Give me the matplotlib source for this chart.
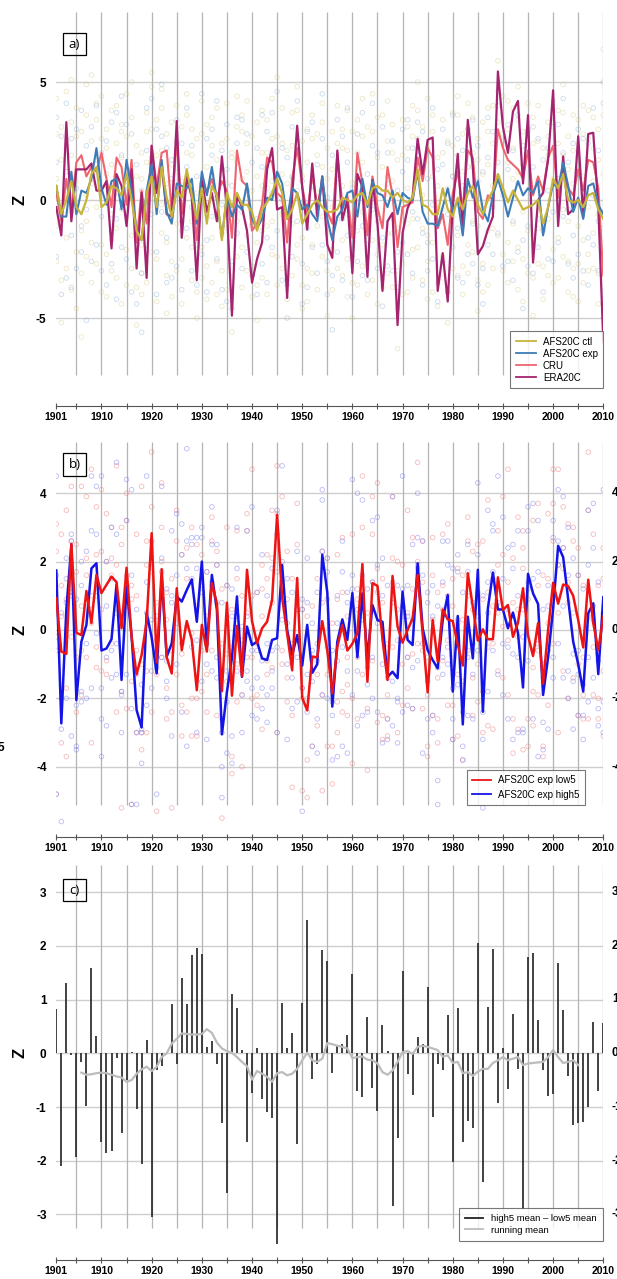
import numpy as np
import matplotlib
matplotlib.use("Agg")
import matplotlib.pyplot as plt
from matplotlib.lines import Line2D
from matplotlib.patches import Rectangle

plt.rcParams['font.family'] = ['Liberation Sans', 'DejaVu Sans']

W, H = 617, 1279
years = np.arange(1901, 2011)

# ---- panel a: ensemble means and reanalysis / obs
a_ctl = [0.6, -0.6, 0.0, 0.8, -0.3, -0.6, 0.0, 1.1, 1.4, -0.3,
         -0.1, 0.6, 0.5, 0.2, 1.1, 0.0, -1.3, -1.7, 0.3, 1.0,
         -0.3, 1.4, 0.1, -0.7, 0.4, 0.1, 1.3, 0.2, -0.8, 0.5,
         -1.0, 0.6, 0.2, -1.7, 0.3, -0.3, 0.3, -0.2, -0.2, -0.5,
         -1.3, -0.4, -0.1, 0.3, 0.9, 0.3, -0.8, -0.4, 0.3, -1.0,
         -0.6, -0.2, 0.0, -0.3, -0.5, -0.5, -0.4, 0.1, 0.0, -0.1,
         0.2, 0.3, -0.2, 0.5, 0.6, 0.4, 0.4, 0.1, 0.3, 0.0,
         -0.1, 0.1, 1.3, -0.2, -0.3, -0.6, -0.6, 0.5, -0.4, -0.7,
         0.1, -0.4, 0.3, 0.6, -0.2, -0.6, 0.0, 0.4, 1.1, 0.5,
         -0.1, 0.4, 0.0, -0.4, -0.3, -0.2, 0.0, -1.0, -0.3, 0.9,
         0.5, 1.1, 0.0, -0.1, 0.0, -0.3, 0.2, 0.3, -0.4, -0.8]
a_exp = [0.6, -0.7, -0.7, 1.2, -0.6, 0.4, 0.3, 0.9, 2.2, 0.5,
         -0.2, 0.8, 0.9, -0.4, 1.7, 0.4, -1.3, -1.7, 0.4, 1.5,
         -0.6, 1.7, -0.5, -1.0, 0.7, 0.6, 0.5, 0.9, -1.0, 1.2,
         0.2, 1.4, 0.0, -1.6, 0.2, -0.7, -0.2, -0.4, 0.7, -0.8,
         -1.2, -0.8, 0.1, 0.0, 1.2, 0.7, -0.8, 0.5, 0.3, -0.4,
         -0.2, -0.6, -0.9, 1.0, -0.8, -1.7, -0.7, -0.4, 0.3, 0.4,
         -0.7, 0.9, -0.3, 0.8, 0.3, 0.2, -0.3, 0.4, -0.6, 0.3,
         0.1, 0.0, 1.2, -0.5, -1.0, -1.0, -1.1, -0.3, 0.5, -0.5,
         0.0, -1.5, 0.9, 0.1, 0.8, -0.4, -0.9, 0.2, 0.9, 0.2,
         -0.7, 0.1, 0.8, 0.2, 0.5, 0.3, 0.8, -1.5, -0.3, 0.7,
         0.5, 1.6, 0.6, -0.5, 0.1, -0.8, 0.6, 0.7, -0.2, -0.6]
a_cru = [0.3, -0.9, 0.9, -0.5, 1.6, 1.9, 1.0, 1.4, 1.2, 2.0,
         0.9, -0.3, 1.8, 1.4, -0.2, 1.7, -1.8, 0.4, -1.0, 2.3,
         0.6, 2.0, 2.1, -0.5, 2.6, -0.6, 0.9, 0.4, -1.7, 1.0,
         0.3, 0.9, 0.1, 0.8, 0.4, -1.6, 2.1, 0.8, 0.6, -1.3,
         -1.0, -0.2, 1.8, 1.6, 0.3, 0.1, -1.8, 0.9, 2.2, 0.6,
         -0.6, 1.1, -0.3, 0.8, -0.5, -1.0, 2.0, -0.2, 0.2, -1.6,
         2.0, 0.7, -1.5, 1.0, -0.3, -1.2, 1.4, 0.2, -2.0, -0.3,
         -0.2, -0.1, 1.8, 0.8, 2.2, 1.8, -1.2, -0.6, -1.9, 0.3,
         1.2, -0.4, 2.1, 1.8, -0.5, -0.8, 0.2, 0.0, 3.0, 2.2,
         1.7, 1.5, 1.3, 0.9, 2.1, 0.2, 1.0, 0.4, 1.8, 2.3,
         0.1, 1.5, 0.5, 0.2, 1.3, 0.4, 1.7, 1.6, 0.5, -3.2]
a_era = [-0.3, -1.5, 3.3, -0.9, 1.3, 1.3, 1.3, 1.55, 0.4, 0.4,
         0.8, -2.05, 1.1, 0.6, -1.1, 1.3, -2.9, 0.3, -3.3, 2.3,
         0.3, 1.5, -0.6, -0.7, 3.35, -1.6, 1.0, 0.1, -3.4, 0.9,
         -0.5, 0.3, -0.9, 1.85, -0.4, -4.9, 0.2, -0.3, -1.3, -3.5,
         -2.5, -1.8, 1.3, 2.2, -0.4, -0.3, -4.15, 0.2, 3.15, 0.55,
         -1.25, 1.55, -0.7, 1.0, -1.9, -2.45, 2.1, -0.85, 0.0, -3.1,
         1.1, 0.55, -3.25, 0.85, -1.0, -3.85, -0.9, -0.55, -5.3, -1.4,
         -0.35, 0.15, 2.6, 1.1, 2.55, 2.65, -3.85, -2.25, -4.3, -0.3,
         1.95, -1.4, 3.4, 1.4, -2.3, -1.95, -1.25, -0.7, 5.45, 3.1,
         2.0, 3.75, 4.2, 0.7, 3.6, -2.65, 0.0, 0.3, 1.7, 4.65,
         -1.1, 1.85, -0.6, -0.4, 2.7, -0.7, 2.8, 2.85, -0.3, -6.0]

# individual members, one group per year (comma separated)
a_ctl_members = """
2.8 -1.1 4.3 -2.6 0.9, -3.4 1.7 -0.8 3.1 -5.2, 2.2 -2.9 0.4 4.6 -1.6, 3.3 -0.5 1.9 -3.8 5.1, -2.2 0.8 -4.6 2.7 3.9,
1.4 -3.1 2.9 -1.3 -5.8, 3.6 0.2 -2.4 4.9 -0.9, 2.5 -1.8 5.3 0.7 -3.5, 4.1 1.2 -2.7 3.4 -0.3, -1.9 2.6 -3.9 0.5 4.4,
3.0 -2.3 1.1 -4.1 2.2, -0.6 3.8 -3.0 1.5 -1.7, 2.4 -1.2 4.0 -3.3 0.3, 1.8 -4.4 3.2 -0.4 2.9, 4.5 0.6 -2.1 2.7 -3.6,
-1.5 3.5 0.1 -2.9 5.0, -3.7 1.0 -5.3 2.3 -1.0, -4.0 -1.9 0.9 -3.1 2.0, 2.9 -3.5 1.6 3.7 -0.8, 4.8 1.3 -2.2 3.0 5.4,
-2.5 1.9 3.4 -4.3 0.4, 3.9 -1.4 2.1 -0.2 4.7, -3.2 0.7 2.8 -1.8 -4.8, -2.6 1.5 -4.1 3.3 -0.7, 4.0 -1.0 2.5 -3.0 1.2,
-1.3 3.1 -2.5 0.8 -4.4, 3.6 0.5 -1.6 4.5 2.0, 1.9 -3.4 3.0 -0.9 -2.0, -3.9 0.3 -1.7 2.6 -5.0, 2.8 -2.0 4.2 0.6 -3.3,
-2.8 1.4 -4.2 3.2 0.0, 3.5 -1.6 2.3 -3.5 1.1, 1.7 -2.6 3.9 -0.5 -4.0, -4.5 -1.4 1.3 -3.0 2.4, 2.6 -3.8 0.7 4.1 -1.2,
-3.3 1.8 -5.6 2.0 -0.6, 3.1 -0.9 4.4 -2.4 1.6, -2.0 2.9 -3.7 0.9 3.6, 1.2 -3.0 2.4 -1.5 4.2, -4.1 0.4 -2.8 2.7 -1.0,
-3.6 1.0 -1.8 3.3 -5.1, 2.0 -3.3 0.6 -1.3 3.8, 3.4 -1.1 2.0 -4.0 0.5, 4.3 0.8 -2.3 2.6 -0.9, 2.7 -2.4 5.2 0.2 -3.6,
1.1 3.9 -2.9 -0.6 2.4, -4.2 -1.5 2.1 -3.4 0.7, 2.3 -3.2 3.7 -1.0 0.9, 3.8 0.4 -1.9 4.8 -2.5, -1.6 2.5 -3.6 1.0 -4.6,
-2.9 1.6 -0.4 3.0 -4.3, 2.6 -1.9 3.6 -3.1 0.8, -1.1 2.8 -3.8 0.3 1.9, 3.3 -2.4 1.4 -0.7 4.1, -3.0 0.9 -4.9 2.2 -1.4,
-3.8 1.3 -2.1 2.9 -0.3, 4.0 -0.8 2.4 -2.9 1.5, -1.7 3.0 -3.2 0.6 2.2, 2.1 -2.5 3.8 -0.6 -4.1, -3.5 0.7 -1.4 2.9 -5.0,
3.4 -1.3 2.0 -3.6 0.4, 1.6 -2.8 4.3 -0.5 2.7, -4.0 0.2 -2.2 3.1 -1.0, 2.9 -1.7 4.5 0.5 -3.4, -2.3 3.5 -0.6 1.8 -4.4,
-3.7 1.4 -1.9 3.6 0.3, 2.5 -3.1 1.0 -1.4 4.2, -1.4 3.2 -3.7 0.8 2.0, -4.6 -1.2 1.7 -3.0 -6.3, 1.9 -2.7 3.4 -0.2 -4.0,
3.1 -1.0 2.2 -3.9 0.5, -2.1 2.7 -0.8 4.0 -3.3, 3.8 1.1 -2.0 2.6 5.0, 1.3 -3.4 3.1 -1.2 0.2, -2.6 2.2 4.3 -1.5 -4.2,
2.9 -1.8 -3.9 1.0 3.6, -3.5 -0.9 1.8 -4.5 0.6, -2.4 2.0 -3.3 3.4 -0.4, -3.9 0.5 -1.6 2.5 -5.2, 2.3 -2.9 3.7 -0.7 1.0,
3.6 -1.5 1.9 -3.2 4.4, -2.8 1.2 -4.0 2.8 -0.6, 4.1 0.3 -1.9 3.0 -3.1, 2.0 -2.2 3.5 -0.9 1.4, -3.4 1.7 -1.1 2.6 -4.7,
-2.7 3.3 -0.2 -3.9 1.1, 1.5 -3.6 2.9 -1.3 3.9, -1.2 2.4 -2.9 4.0 0.6, 4.6 1.0 -1.5 3.3 5.9, 2.8 -2.3 4.4 0.4 -3.0,
-1.8 3.0 -3.5 1.6 4.2, 2.2 -1.0 3.9 -2.6 0.9, 3.4 -2.0 1.2 4.8 -3.8, -2.5 1.5 -4.3 2.9 -0.5, 3.0 -1.3 4.1 -3.1 1.8,
-3.3 2.4 -1.5 3.5 -4.9, 2.5 -2.7 0.8 4.0 -1.2, -4.2 -1.0 2.2 -2.8 0.4, 1.9 -3.2 3.3 -0.8 2.7, 4.2 0.9 -2.1 3.1 -3.5,
2.4 -1.6 3.8 -3.3 0.5, 3.7 -0.4 1.9 -2.4 4.9, -2.6 1.3 -3.9 2.7 -0.9, 2.1 -2.9 0.7 3.6 -4.1, -1.1 3.4 -2.7 1.5 -4.3,
2.8 -3.5 1.0 -1.7 4.0, -2.3 2.6 -0.3 3.8 -3.0, 3.5 -1.4 2.2 -2.9 0.8, 1.7 -3.1 3.0 -0.6 -4.4, -2.4 1.1 3.6 -5.0 6.4
"""
a_exp_members = """
1.6 -2.4 3.5, -0.9 2.7 -4.0, 1.2 -3.3 4.1, 2.6 -1.5 -3.7, -2.9 3.0 0.5, 3.8 -1.1 -2.2, -0.4 2.3 -5.1, 3.1 -2.6 0.9, 4.0 -1.9 1.7, -3.0 2.0 -0.7,
2.5 -3.6 0.6, -1.3 3.3 -2.7, 3.7 -0.8 -4.2, -2.0 1.9 4.4, 3.2 -2.5 0.3, 0.9 -3.9 2.8, -4.4 -1.7 1.5, -3.1 0.4 -5.6, 2.1 -2.1 3.9, 4.3 -0.6 1.8,
-2.2 3.0 -4.0, 2.7 -0.5 4.9, -1.6 2.2 -3.5, -3.3 0.9 1.7, 3.4 -2.8 0.2, -0.9 2.4 -3.8, 3.9 -1.2 1.4, 2.3 -3.0 -0.3, -3.6 1.0 -1.9, 4.5 -2.3 0.7,
-1.7 2.6 -3.9, 3.0 -0.7 1.9, -2.5 4.2 0.1, -3.8 -0.2 2.1, 1.3 -4.3 3.2, -2.6 0.6 -4.6, 3.5 -1.4 2.4, -0.5 3.4 -2.9, 2.8 -2.2 0.4, -3.2 1.6 -1.1,
-4.0 -0.8 2.2, 1.4 -2.7 3.6, 2.9 -1.6 -3.5, 3.7 0.3 -2.0, 4.6 -1.3 1.1, 2.2 -3.4 0.0, -3.6 1.8 -5.0, 1.0 -2.4 3.1, 4.2 -0.9 2.0, -2.7 0.8 -4.4,
-1.2 2.9 -3.7, 3.3 -2.0 0.6, -3.1 1.5 -0.6, 2.6 -1.9 4.5, -4.0 0.1 -2.6, -3.2 1.9 -5.5, 3.4 -2.2 0.9, -0.8 2.7 -3.4, 1.6 -1.5 3.9, -2.4 0.5 -4.1,
2.8 -2.6 0.3, -1.1 3.7 -3.2, -3.4 1.1 -1.7, 4.1 -0.4 2.3, -2.9 2.0 -0.9, -1.6 3.1 -4.5, 2.0 -2.8 0.7, -0.7 2.5 -3.0, -3.7 0.4 -2.2, 3.0 -1.8 1.2,
-2.3 1.7 3.4, 2.2 -3.1 -0.5, 3.3 -0.8 1.9, -1.4 2.9 -3.6, -3.0 0.9 -1.8, -2.5 3.9 -0.2, -4.3 -1.0 1.3, 1.5 -2.6 3.0, -0.6 2.4 -3.9, -2.0 1.0 3.6,
2.6 -1.2 -3.3, -3.5 0.6 2.1, 3.0 -2.3 1.4, -1.0 3.4 -2.7, 2.3 -3.6 0.8, -2.9 1.2 -4.4, 1.8 -1.9 3.5, -0.3 2.9 -2.3, 4.0 -1.4 1.6, 2.5 -2.8 0.2,
-2.6 1.3 3.2, 2.1 -0.9 -3.4, 3.6 -2.2 0.7, -1.7 2.3 -4.6, 2.9 -1.1 -2.8, 1.4 3.1 -3.1, -0.8 2.6 -2.0, -3.9 -1.3 1.7, 2.2 -2.5 0.4, 3.3 -0.5 -2.6,
3.2 -1.8 0.9, 4.3 -0.7 2.0, -2.7 1.6 -0.4, -1.5 2.4 -3.3, 1.1 -2.3 3.0, -3.0 0.5 2.6, 2.4 -1.6 -3.6, 3.9 0.2 -1.9, -0.9 2.1 -3.0, 4.1 -1.2 5.0
"""

# ---- panel b: low5 / high5 members of AFS20C exp
b_low5 = [0.93, -0.63, -0.70, 2.52, -0.08, -0.15, 1.14, 0.20, 1.61, 1.08,
          1.32, 1.56, 1.40, 0.05, 1.82, -0.20, -1.30, -0.73, 0.25, 2.83,
          -0.95, 1.78, -0.80, -1.27, 1.22, -0.59, 0.26, -0.29, -1.76, 0.15,
          -0.63, 1.37, 0.78, -1.79, 0.80, -1.92, 0.12, -1.35, 1.76, 0.26,
          -0.39, 0.05, 0.24, 0.88, 3.37, 0.95, -0.10, -1.18, 1.52, -1.98,
          -2.35, -0.78, -0.80, 0.26, -0.60, -1.85, -0.50, 0.15, -0.60, -0.40,
          -0.10, 1.93, -1.51, 1.37, 1.29, -0.28, -1.46, 1.58, 0.10, -0.37,
          0.00, 0.34, 1.61, -0.10, -1.82, 0.29, -0.92, 0.60, 0.31, 0.26,
          -0.43, -1.04, 1.66, 0.68, -0.31, 0.02, -0.27, -0.27, 1.54, 0.59,
          0.73, -0.20, 0.21, 1.22, -0.16, -0.76, 0.20, -1.57, 0.00, 1.38,
          0.77, 1.33, 1.28, 1.00, 0.29, -0.51, 1.47, 0.20, -0.58, 0.39]
b_high5 = [1.74, -2.73, 0.60, 2.48, -2.05, -0.34, 0.15, 1.80, 1.95, -0.60,
           -0.54, -0.27, 1.32, -1.46, 1.27, -0.17, -2.34, -2.85, 0.50, -0.22,
           -1.27, 1.55, -0.78, -0.39, 0.98, 0.83, 1.17, 1.48, 0.24, 2.00,
           -0.52, 1.61, 0.59, -3.05, -1.81, -0.82, 0.98, -1.37, 0.10, -0.44,
           -0.34, -0.83, -0.88, -0.29, -0.24, 1.90, 0.00, -0.73, -0.15, -1.04,
           0.15, -1.25, -1.00, 2.20, 1.10, -2.24, -0.34, 0.31, -0.29, 1.08,
           -0.80, 1.07, -0.84, 0.73, 0.29, 0.24, -1.37, -1.22, -1.41, 1.12,
           -0.29, -0.44, 1.95, 0.05, -0.59, -0.88, -1.12, 0.29, 1.02, -1.80,
           0.41, -2.76, 0.39, -0.83, 1.76, -2.39, 0.63, 1.68, 0.60, 0.60,
           0.05, 0.51, -0.09, -1.68, 1.64, 1.07, 0.76, -1.90, -0.80, 0.62,
           2.46, 2.13, 0.90, -0.34, -1.00, -1.80, 0.49, 0.78, -1.29, 0.96]

b_low5_members = """
3.1 -0.6 2.3 -4.8, 2.8 -3.3 0.4 1.3, -1.7 3.5 -3.7 0.9, 4.2 1.1 2.6 -0.2, 1.7 -2.4 -0.8 2.5,
4.2 -1.9 -0.6 0.7, 3.9 -0.8 2.1 1.6, 4.7 -3.3 1.0 0.2, 2.2 -0.5 3.6 -1.1, 4.1 -1.2 2.3 0.6,
3.4 -0.9 2.0 -1.3, 2.1 3.0 -0.4 1.6, 4.8 -2.4 1.9 0.5, 3.0 -1.8 -5.2 2.5, 3.2 -2.3 4.0 1.6,
1.3 -5.1 -1.5 0.9, -3.0 2.8 -0.6 1.0, 4.2 -3.5 -1.0 -3.0, -3.0 1.9 -1.2 2.6, 5.2 3.6 -2.4 1.7,
-1.3 -0.3 0.8 -5.3, 4.3 2.0 -0.8 3.0, -1.7 1.1 -2.6 0.3, -2.4 -5.2 1.5 -0.6, 3.5 -1.3 2.6 0.4,
-0.7 2.2 -2.2 -3.1, 2.4 -2.4 1.5 0.1, -0.1 3.0 -3.1 -2.0, -2.0 -3.1 0.7 2.5, 2.2 -1.8 1.3 -0.6,
1.7 -2.4 -1.3 0.4, 3.3 2.6 -0.6 1.3, 1.9 -2.5 2.3 0.8, -2.6 -0.4 -5.5 1.2, 1.3 -1.5 3.0 -0.7,
-3.7 -4.2 0.6 -0.5, 2.9 -1.0 1.5 -2.1, -4.0 -0.3 1.0 -1.9, 3.4 2.9 0.5 -0.8, -2.0 4.7 -0.8 1.0,
1.1 -2.2 -0.4 -1.9, -2.9 0.4 1.9 1.2, 2.2 -0.9 1.5 -1.3, 3.5 -1.1 2.1 0.8, 4.8 3.4 1.7 -3.0,
3.9 -0.6 1.4 -1.0, 2.3 -2.1 -1.4 0.9, -2.5 -4.6 -0.4 1.5, 3.7 -0.3 2.5 0.6, -4.7 -1.7 0.6 -2.0,
-4.9 -2.0 -3.8 0.4, -3.4 0.7 -1.2 -0.8, -0.9 1.5 -2.8 -1.3, -1.9 2.3 0.8 -4.7, -3.4 2.1 -0.5 -1.3,
-4.5 -3.4 0.2 -1.8, 2.2 -3.0 0.9 -2.1, 1.1 -1.8 2.7 -2.4, -1.6 -0.8 0.4 -2.5, 2.8 -3.9 -2.0 0.6,
-2.6 1.2 0.9 -0.8, 4.5 1.0 3.0 -1.3, -4.1 -2.3 -1.1 0.5, 3.9 -0.9 1.4 2.8, 4.3 1.8 -2.7 1.1,
-3.2 1.5 -2.5 0.8, -3.1 -0.4 -1.9 -2.6, 3.9 2.1 -0.5 1.4, -3.0 2.0 0.6 -0.3, 1.9 -2.2 0.4 -1.0,
3.5 -0.8 -1.7 0.5, 2.7 -0.7 1.2 -2.3, 4.9 2.0 -0.4 1.9, -2.3 1.4 -0.6 2.6, -3.7 -0.8 -3.4 -1.9,
2.7 -2.5 1.6 0.3, -2.6 1.1 -1.4 -3.3, 2.8 -0.9 1.3 0.6, 3.1 -2.2 1.0 -0.3, -3.2 0.7 1.5 -2.2,
-1.3 1.8 0.2 -3.1, -3.8 -1.5 0.3 1.6, 3.3 2.6 -0.6 1.0, 2.3 -1.4 0.6 -2.5, -2.1 2.5 -1.0 0.4,
-3.0 -1.8 2.6 0.9, 3.8 -2.8 -0.5 1.1, -2.9 1.5 -0.4 0.7, 1.9 2.9 0.5 -1.2, 3.9 -1.4 2.2 0.1,
4.7 -1.9 -0.3 1.4, 2.1 -2.6 -3.6 0.8, 3.3 -2.9 0.6 -0.2, -3.5 2.9 1.8 2.4, -3.4 1.4 0.9 -2.6,
3.2 -2.8 -1.1 -1.8, 1.3 -1.9 3.7 -0.6, -3.4 -3.7 1.6 -1.0, 1.5 -2.2 3.4 0.2, 3.7 -0.4 4.7 2.6,
-3.0 1.9 4.7 0.5, 3.6 -1.2 2.4 1.8, -2.0 3.1 0.8 1.4, 2.6 -1.4 3.0 0.5, -2.5 1.6 2.4 -1.0,
-2.6 -1.9 1.3 -0.8, 5.2 0.4 -2.6 3.5, -1.9 2.8 0.7 -0.5, -2.6 -2.0 1.3 -0.7, -3.1 2.4 1.5 -1.2
"""
b_high5_members = """
4.5 1.6 -4.8 -0.2, -2.9 -5.6 0.5 -2.0, 2.1 -2.0 0.8 1.5, 2.8 2.6 -3.1 1.0, -3.4 -3.5 0.9 -2.2,
2.0 -2.1 1.3 -1.8, -2.0 2.3 0.8 -0.4, 4.5 -1.7 2.9 0.6, 4.2 -0.1 2.8 1.0, -1.7 4.5 -2.6 -3.7,
0.7 -2.8 -0.8 2.0, 3.0 -1.4 -0.6 1.5, 4.9 -1.3 2.8 -0.4, -1.9 -3.0 0.4 -1.8, 4.4 -1.3 3.2 0.7,
4.1 -2.3 -5.1 1.6, -3.0 -1.3 0.6 -5.1, -1.6 -3.0 -3.9 -2.9, 4.5 -2.2 0.5 1.4, -1.7 0.3 2.6 -1.2,
-4.8 -1.1 0.4 -0.6, 2.1 4.2 -0.8 1.7, -2.0 -1.5 1.2 -0.9, -3.1 0.8 1.0 2.9, 3.4 1.6 -1.0 0.2,
3.1 -0.4 2.2 -2.4, 5.3 -3.4 1.8 2.6, 2.7 -0.5 1.5 2.5, -3.0 2.7 -0.3 1.8, 3.0 -1.5 2.7 1.1,
-3.2 1.7 -0.4 -1.0, 3.6 2.5 -1.2 1.4, 2.5 -1.4 -0.8 1.9, -4.0 -3.0 -4.9 0.8, -1.2 -3.6 -2.1 1.3,
-3.9 -3.1 0.4 1.2, 3.0 -1.2 1.8 0.4, -1.9 -3.0 0.1 -0.9, 0.4 -1.5 2.9 -1.2, -2.5 3.6 -0.6 -1.7,
-2.6 -0.6 1.1 -1.4, -2.3 2.2 -0.9 -1.7, -2.7 -1.9 1.0 -0.4, 1.8 -1.7 -0.6 -1.2, -3.0 2.8 3.5 -0.5,
4.8 2.0 0.3 0.9, -3.2 1.5 -1.0 0.2, -2.3 1.1 -1.4 -0.6, -2.1 2.3 0.6 -0.8, -5.3 -1.7 0.9 0.6,
2.1 -1.3 0.8 -2.4, -3.4 0.2 -1.5 -0.6, -2.6 -3.6 1.1 -0.4, 4.1 3.8 -1.9 2.3, 0.9 -2.0 2.1 1.7,
-3.8 -2.5 -0.6 -2.1, -3.7 0.2 1.0 -0.9, 2.6 -3.4 1.7 -0.5, 1.1 -3.6 0.8 -1.2, 4.4 -1.9 1.6 1.2,
4.0 -2.8 -1.2 0.6, -2.5 3.8 1.6 0.3, -2.4 1.2 -1.6 -0.4, 3.2 1.4 -0.8 -2.0, 1.9 -2.4 3.3 0.2,
2.1 -3.3 1.0 -1.0, -1.4 -3.2 1.3 -2.6, 3.9 -2.8 -1.5 0.8, -2.1 -3.3 1.3 -2.0, 4.5 -2.4 1.2 0.7,
1.3 -2.2 -0.8 0.4, -1.1 2.5 -2.3 0.3, 4.0 2.7 -0.9 1.8, -3.6 2.6 -0.4 1.6, -2.6 1.1 -1.5 0.8,
-3.0 -2.5 1.3 0.4, -5.1 -4.4 -1.1 0.7, 1.4 -1.3 2.6 -0.8, -1.0 2.6 1.9 -0.5, -3.2 -1.7 1.8 -2.6,
1.7 -1.6 0.3 2.2, -3.8 -3.4 -2.4 1.1, 2.5 -2.5 1.7 -0.8, -1.3 -2.6 0.8 -0.4, 4.3 2.2 -0.6 1.1,
-5.2 -2.4 -3.2 1.0, 3.5 -1.8 1.4 0.5, 3.1 2.9 -0.6 1.7, 4.5 -1.3 0.8 1.2, 3.3 -1.9 1.5 -0.4,
2.4 -2.6 0.6 -0.5, 1.8 -3.2 2.5 -0.7, -0.8 2.9 -3.0 1.0, -3.0 -2.9 -0.2 0.6, 3.6 1.2 -0.9 2.9,
3.7 -2.6 -0.6 1.5, -3.7 3.2 1.7 -0.4, -3.5 -2.7 0.6 -1.4, -2.9 1.3 -0.6 0.7, -0.8 2.7 3.2 -1.4,
4.1 1.9 2.6 -0.4, 3.9 -1.4 0.7 2.4, -2.0 1.6 3.0 -1.2, -1.5 2.1 -0.7 -2.9, 1.6 -2.5 -1.3 -0.6,
-3.2 -2.5 1.2 -1.6, 3.5 -2.1 -0.8 1.9, 3.7 -1.4 0.3 2.4, -2.8 -2.3 1.4 -0.9, 4.1 -3.0 -2.1 0.5
"""

# ---- panel c: high5 mean - low5 mean, and its running mean
c_diff = [0.82, -2.09, 1.30, -0.04, -1.94, -0.16, -0.99, 1.58, 0.33, -1.66,
          -1.85, -1.81, -0.08, -1.49, -0.50, 0.03, -1.03, -2.07, 0.25, -3.05,
          -0.32, -0.23, 0.02, 0.91, -0.20, 1.40, 0.92, 1.83, 1.97, 1.84,
          0.11, 0.23, -0.19, -1.29, -2.61, 1.10, 0.84, 0.06, -1.65, -0.73,
          0.09, -0.86, -1.09, -1.21, -3.55, 0.94, 0.10, 0.37, -1.69, 0.94,
          2.48, -0.48, -0.19, 1.93, 1.71, -0.37, 0.16, 0.17, 0.34, 1.48,
          -0.70, -0.81, 0.67, -0.64, -1.07, 0.52, 0.05, -2.84, -1.57, 1.53,
          -0.39, -0.78, 0.31, 0.17, 1.23, -1.18, -0.20, -0.31, 0.71, -2.02,
          0.84, -1.66, -1.26, -1.40, 2.05, -2.39, 0.87, 1.94, -0.92, 0.09,
          -0.67, 0.73, -0.30, -2.90, 1.80, 1.86, 0.62, -0.32, -0.80, -0.76,
          1.69, 0.81, -0.43, -1.34, -1.30, -1.27, -1.00, 0.58, -0.70, 0.56]
run_years = np.arange(1906, 2006)
c_run = [-0.36, -0.40, -0.39, -0.37, -0.36, -0.37, -0.40, -0.43, -0.45, -0.53,
         -0.50, -0.38, -0.30, -0.25, -0.33, -0.25, -0.07, 0.00, 0.18, 0.27,
         0.37, 0.36, 0.35, 0.35, 0.36, 0.45, 0.38, 0.20, 0.09, 0.04,
         0.01, -0.07, -0.16, -0.24, -0.49, -0.33, -0.38, -0.44, -0.53, -0.37,
         -0.35, -0.41, -0.38, -0.29, -0.13, 0.01, -0.13, -0.16, -0.10, 0.19,
         0.17, 0.14, 0.12, 0.09, -0.09, -0.07, -0.06, -0.12, -0.13, -0.19,
         -0.35, -0.40, -0.32, -0.16, 0.02, 0.04, -0.01, 0.12, 0.14, 0.12,
         0.09, 0.06, -0.06, -0.04, -0.18, -0.16, -0.37, -0.35, -0.42, -0.34,
         -0.29, -0.29, -0.18, -0.13, -0.07, -0.13, -0.10, -0.07, -0.22, -0.19,
         -0.18, -0.17, -0.16, -0.07, 0.06, -0.07, -0.18, -0.16, -0.13, -0.22]


def members_xy(text):
    xs, ys = [], []
    for i, grp in enumerate(text.replace("\n", " ").split(",")):
        vals = [float(v) for v in grp.split()]
        xs += [1901 + i] * len(vals)
        ys += vals
    return np.array(xs), np.array(ys)


fig = plt.figure(figsize=(W / 100, H / 100), dpi=100)


def px_axes(top, bottom, left=56.3, right=603.3):
    return fig.add_axes([left / W, 1 - bottom / H, (right - left) / W, (bottom - top) / H])


def setup(ax, ylim, top_px, bottom_px, axis_px, yticks, vr):
    ax.set_xlim(1901, 2010)
    ax.set_ylim(*ylim)
    for s in ['left', 'right', 'top']:
        ax.spines[s].set_visible(False)
    sp = ax.spines['bottom']
    sp.set_position(('outward', (axis_px - bottom_px) * 0.72))
    sp.set_color('#555555')
    sp.set_linewidth(0.8)
    major = [1901] + list(range(1910, 2011, 10))
    ax.set_xticks(major)
    ax.set_xticklabels([str(y) for y in major], fontweight='bold', fontsize=7.5)
    ax.set_xticks(list(range(1905, 2010, 10)), minor=True)
    ax.tick_params(axis='x', which='both', direction='inout', length=4, width=0.8,
                   color='#555555', pad=2.5)
    ax.set_yticks(yticks)
    ax.set_yticklabels([str(v) for v in yticks], fontweight='bold', fontsize=8.5)
    ax.tick_params(axis='y', length=0, pad=7)
    for v in yticks:
        ax.axhline(v, color='#cfcfcf', lw=1.0, zorder=0)
    ax.vlines(range(1905, 2011, 5), vr[0], vr[1], color='#b4b4b4', lw=0.9, zorder=0)
    ax.patch.set_alpha(0)


def ylabel(ypx):
    fig.text(20 / W, 1 - ypx / H, 'Z', rotation=90, ha='center', va='center',
             fontweight='bold', fontsize=12)


def panel_label(txt, x0, y0, x1, y1):
    fig.patches.append(Rectangle((x0 / W, 1 - y1 / H), (x1 - x0) / W, (y1 - y0) / H,
                                 transform=fig.transFigure, fill=False,
                                 edgecolor='black', lw=0.9))
    fig.text((x0 + x1) / 2 / W, 1 - (y0 + y1) / 2 / H, txt, ha='center', va='center',
             fontsize=9.5, family=['Open Sans', 'DejaVu Sans'])


def right_labels(ypxs, texts):
    # the reference shows a second y axis cut off by the right edge of the figure
    for ypx, t in zip(ypxs, texts):
        fig.text(612 / W, 1 - ypx / H, t, ha='left', va='center', fontweight='bold',
                 fontsize=8.5)


# ---------------- panel a
ax1 = px_axes(1.8, 391.2)
setup(ax1, (-8.1, 8.4), 1.8, 391.2, 405.7, [-5, 0, 5], (-7.4, 7.98))
x, y = members_xy(a_ctl_members)
ax1.scatter(x, y, s=11, facecolors='none', edgecolors='#cfc06a', linewidths=0.6, alpha=0.38, zorder=1)
x, y = members_xy(a_exp_members)
ax1.scatter(x, y, s=11, facecolors='none', edgecolors='#8fb0d4', linewidths=0.6, alpha=0.45, zorder=1)
ax1.plot(years, a_cru, color='#f0646f', lw=1.5, zorder=3)
ax1.plot(years, a_era, color='#a52470', lw=1.6, zorder=4)
ax1.plot(years, a_exp, color='#3e7cb8', lw=1.5, zorder=5)
ax1.plot(years, a_ctl, color='#c8b43a', lw=1.6, zorder=6)
h1 = [Line2D([], [], color=c, lw=1.3) for c in ['#c8b43a', '#3e7cb8', '#f0646f', '#a52470']]
lg = ax1.legend(h1, ['AFS20C ctl', 'AFS20C exp', 'CRU', 'ERA20C'], loc='lower right',
                bbox_to_anchor=(603.3 / W, 1 - 388 / H), bbox_transform=fig.transFigure,
                fontsize=7, frameon=True, fancybox=False, edgecolor='#555555',
                handlelength=2.1, handletextpad=0.7, labelspacing=0.2, borderpad=0.55,
                borderaxespad=0)
lg.get_frame().set_linewidth(0.8)
ylabel(200)
panel_label('a)', 63, 33, 86, 55)

# ---------------- panel b
ax2 = px_axes(431.6, 831.8)
setup(ax2, (-5.9, 5.8), 431.6, 831.8, 836.7, [-4, -2, 0, 2, 4], (-5.12, 5.51))
x, y = members_xy(b_low5_members)
ax2.scatter(x, y, s=11, facecolors='none', edgecolors='#f07878', linewidths=0.6, alpha=0.5, zorder=1)
x, y = members_xy(b_high5_members)
ax2.scatter(x, y, s=11, facecolors='none', edgecolors='#7878f0', linewidths=0.6, alpha=0.5, zorder=1)
ax2.plot(years, b_high5, color='#1414e6', lw=1.8, zorder=4)
ax2.plot(years, b_low5, color='#ee1414', lw=1.8, zorder=5)
h2 = [Line2D([], [], color=c, lw=1.3) for c in ['#ee1414', '#1414e6']]
lg = ax2.legend(h2, ['AFS20C exp low5', 'AFS20C exp high5'], loc='lower right',
                bbox_to_anchor=(585 / W, 1 - 805 / H), bbox_transform=fig.transFigure,
                fontsize=7, frameon=True, fancybox=False, edgecolor='#555555',
                handlelength=1.9, handletextpad=0.8, labelspacing=0.45, borderpad=0.55,
                borderaxespad=0)
lg.get_frame().set_linewidth(0.8)
ylabel(630)
panel_label('b)', 63, 453, 86, 476)
right_labels([493.3, 561.7, 630, 698.3, 766.7], ['4', '2', '0', '-2', '-4'])
fig.text(4 / W, 1 - 748 / H, '5', ha='right', va='center', fontweight='bold', fontsize=8.5)

# ---------------- panel c
ax3 = px_axes(854.6, 1252)
setup(ax3, (-3.7, 3.7), 854.6, 1252, 1260, [-3, -2, -1, 0, 1, 2, 3], (-3.26, 3.51))
ax3.vlines(years, 0, c_diff, color='#333333', lw=1.3, zorder=3)
ax3.plot(run_years, c_run, color='#bcbcbc', lw=1.6, zorder=4)
h3 = [Line2D([], [], color=c, lw=1.3) for c in ['#222222', '#bcbcbc']]
lg = ax3.legend(h3, ['high5 mean \u2013 low5 mean', 'running mean'], loc='lower right',
                bbox_to_anchor=(603.3 / W, 1 - 1241 / H), bbox_transform=fig.transFigure,
                fontsize=6.8, frameon=True, fancybox=False, edgecolor='#555555',
                handlelength=1.9, handletextpad=0.85, labelspacing=0.25, borderpad=0.68,
                borderaxespad=0)
lg.get_frame().set_linewidth(0.8)
lg.set_zorder(10)
ylabel(1053.3)
panel_label('c)', 63, 879, 86, 901)
right_labels([892.3, 945.7, 999.3, 1053.3, 1107.3, 1160.7, 1214.3],
             ['3', '2', '1', '0', '-1', '-2', '-3'])

fig.savefig('out.png', dpi=100)
